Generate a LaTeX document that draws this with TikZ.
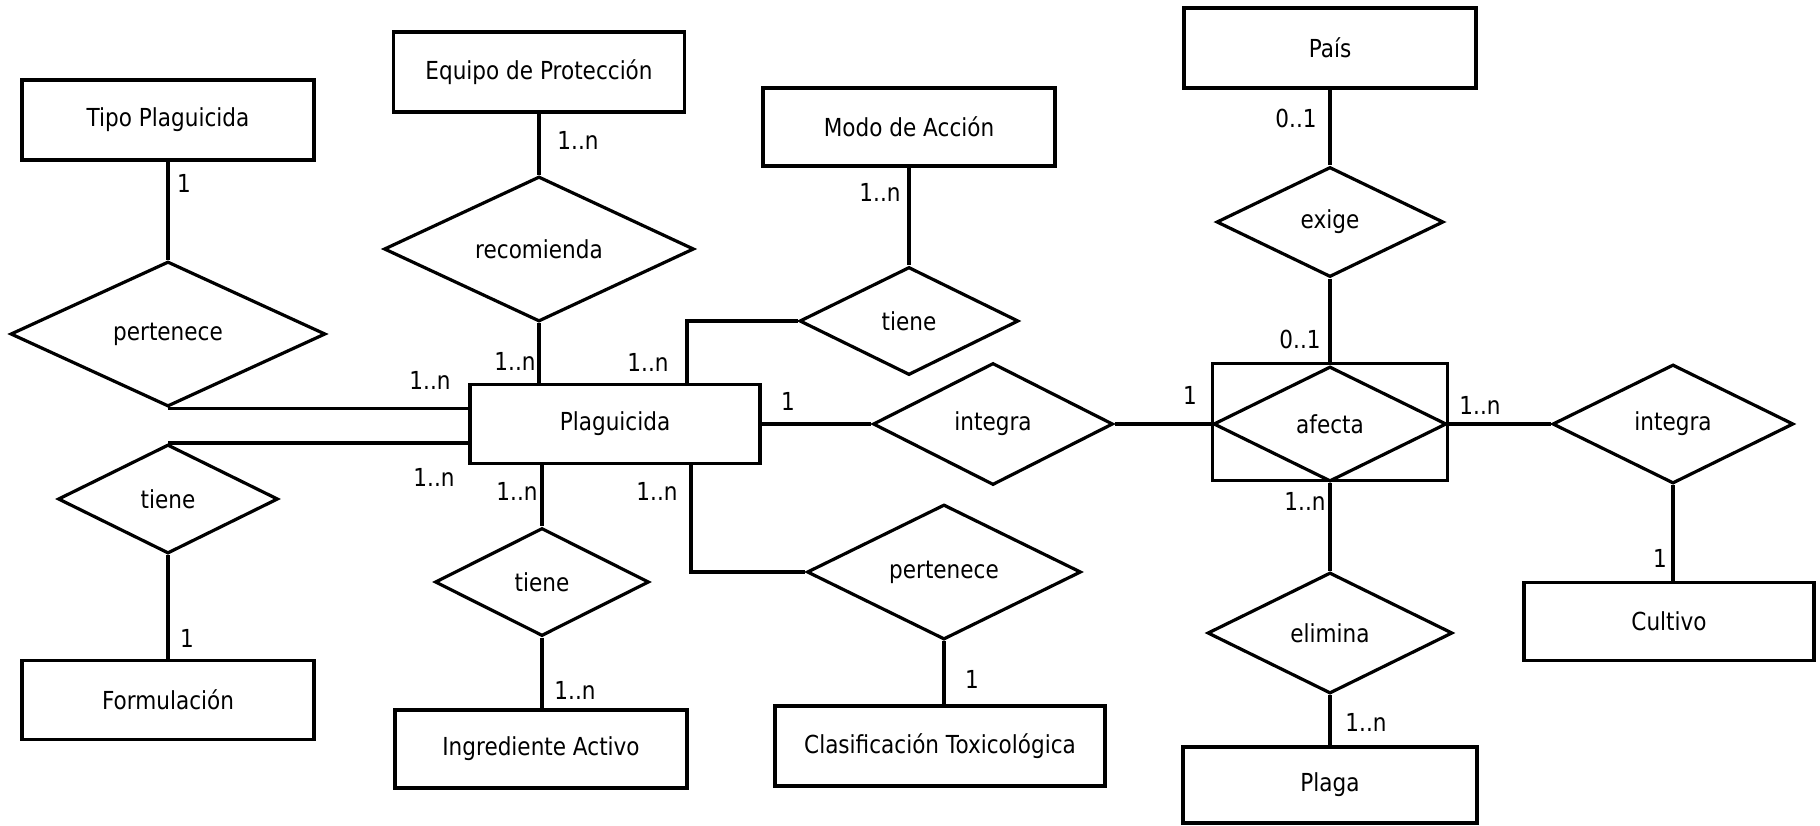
\documentclass[tikz,border=0pt]{standalone}
\usepackage{fontspec}
\setmainfont{DejaVu Sans}[FakeStretch=0.87]
\usetikzlibrary{shapes.geometric,calc}
\begin{document}
\begin{tikzpicture}[x=0.5pt,y=-0.5pt,
  every node/.style={font=\fontsize{12.4}{14}\selectfont},
  ent/.style={draw, line width=1.6pt, rectangle, inner sep=0pt},
  rel/.style={draw, line width=1.6pt, diamond, inner sep=0pt, shape aspect=2},
  conn/.style={line width=1.6pt},
  card/.style={inner sep=0pt}]
\useasboundingbox (0,0) rectangle (1820,825);
% entities
\node[ent, minimum width=146pt, minimum height=40pt] (tipo) at (168,120) {Tipo Plaguicida};
\node[ent, minimum width=145.5pt, minimum height=40pt] (equipo) at (539,72) {Equipo de Protección};
\node[ent, minimum width=146pt, minimum height=39pt] (modo) at (909,127) {Modo de Acción};
\node[ent, minimum width=146pt, minimum height=40pt] (pais) at (1330,48) {País};
\node[ent, minimum width=145pt, minimum height=39.5pt] (plag) at (615,424) {Plaguicida};
\node[ent, minimum width=117.5pt, minimum height=58.5pt] (afbox) at (1330,422) {};
\node[rel, minimum width=116.5pt, minimum height=57.5pt] (afecta) at (1330,424) {afecta};
\node[ent, minimum width=146pt, minimum height=39.5pt] (formul) at (168,700) {Formulación};
\node[ent, minimum width=146pt, minimum height=39pt] (ingred) at (541,749) {Ingrediente Activo};
\node[ent, minimum width=165pt, minimum height=40pt] (clasif) at (940,746) {Clasificación Toxicológica};
\node[ent, minimum width=145pt, minimum height=39pt] (cultivo) at (1669,621.5) {Cultivo};
\node[ent, minimum width=147pt, minimum height=38pt] (plaga) at (1330,785) {Plaga};
% relationships
\node[rel, minimum width=157.5pt, minimum height=72.5pt] (pertL) at (168,334) {pertenece};
\node[rel, minimum width=155pt, minimum height=72.5pt] (recom) at (539,249) {recomienda};
\node[rel, minimum width=109.5pt, minimum height=54pt] (tieneT) at (909,321) {tiene};
\node[rel, minimum width=113.5pt, minimum height=55pt] (exige) at (1330,222) {exige};
\node[rel, minimum width=120pt, minimum height=61pt] (integC) at (993,424) {integra};
\node[rel, minimum width=120.5pt, minimum height=59.5pt] (integR) at (1673,424) {integra};
\node[rel, minimum width=110pt, minimum height=54.5pt] (tieneL) at (168,499) {tiene};
\node[rel, minimum width=107pt, minimum height=54pt] (tieneM) at (542,582) {tiene};
\node[rel, minimum width=137pt, minimum height=67.5pt] (pertB) at (944,572) {pertenece};
\node[rel, minimum width=122.5pt, minimum height=60.5pt] (elim) at (1330,633) {elimina};
% connectors
\draw[conn] (tipo.south) -- (pertL.north);
\draw[conn] (pertL.south) -- (pertL.south -| plag.west);
\draw[conn] (equipo.south) -- (recom.north);
\draw[conn] (recom.south) -- (recom.south |- plag.north);
\draw[conn] (modo.south) -- (tieneT.north);
\draw[conn] (tieneT.west) -| ([xshift=36pt]plag.north);
\draw[conn] (plag.east) -- (integC.west);
\draw[conn] (integC.east) -- (afecta.west);
\draw[conn] (pais.south) -- (exige.north);
\draw[conn] (exige.south) -- (afbox.north);
\draw[conn] (afecta.east) -- (integR.west);
\draw[conn] (integR.south) -- (integR.south |- cultivo.north);
\draw[conn] (afecta.south) -- (elim.north);
\draw[conn] (elim.south) -- (plaga.north);
\draw[conn] (tieneL.north) -- (tieneL.north -| plag.west);
\draw[conn] (tieneL.south) -- (formul.north);
\draw[conn] (tieneM.north |- plag.south) -- (tieneM.north);
\draw[conn] (tieneM.south) -- (tieneM.south |- ingred.north);
\draw[conn] ([xshift=38pt]plag.south) |- (pertB.west);
\draw[conn] (pertB.south) -- (pertB.south |- clasif.north);
% cardinalities
\node[card] (c1) at (184,183) {1};
\node[card] (c2) at (430,380) {1..n};
\node[card] (c3) at (578,140) {1..n};
\node[card] (c4) at (515,361) {1..n};
\node[card] (c5) at (880,192) {1..n};
\node[card] (c6) at (648,362) {1..n};
\node[card] (c7) at (788,401) {1};
\node[card] (c8) at (1190,395) {1};
\node[card] (c9) at (1296,118) {0..1};
\node[card] (c10) at (1300,339) {0..1};
\node[card] (c11) at (1480,405) {1..n};
\node[card] (c12) at (1660,558) {1};
\node[card] (c13) at (1305,501) {1..n};
\node[card] (c14) at (1366,722) {1..n};
\node[card] (c15) at (434,477) {1..n};
\node[card] (c16) at (187,638) {1};
\node[card] (c17) at (517,491) {1..n};
\node[card] (c18) at (575,690) {1..n};
\node[card] (c19) at (657,491) {1..n};
\node[card] (c20) at (972,679) {1};
\end{tikzpicture}
\end{document}
